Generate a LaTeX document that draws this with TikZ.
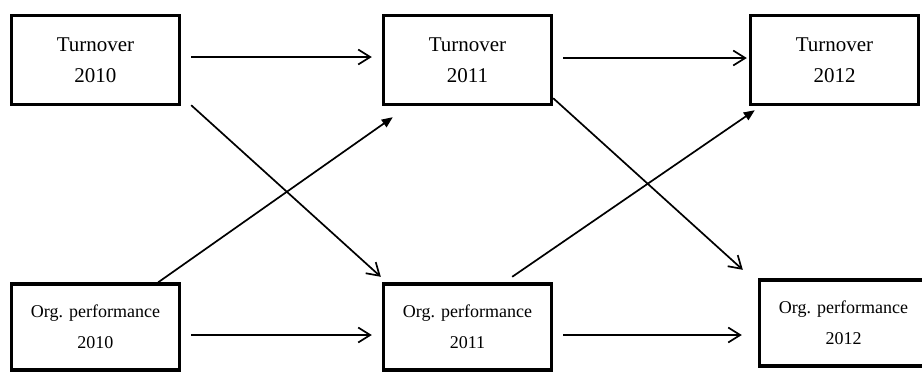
\documentclass[tikz,border=0pt]{standalone}
\usepackage{fontspec}
\setmainfont{Liberation Serif}
\usetikzlibrary{arrows.meta}
\usetikzlibrary{positioning}

\begin{document}
\begin{tikzpicture}[x=0.5pt,y=-0.5pt,node distance=186pt,on grid,
    var/.style={draw,line width=1.7pt,minimum width=84pt,align=center,inner sep=0pt},
    turn/.style={var,minimum height=44.5pt,font=\fontsize{10.5}{15.5}\selectfont},
    perf/.style={var,minimum height=43pt,font=\fontsize{9}{15.5}\selectfont},
    lag/.style={line width=0.85pt,-{Straight Barb[length=6pt,width=7.5pt]}},
    cross/.style={line width=0.85pt,-{Triangle[length=5.5pt,width=4.5pt]}}]
    \useasboundingbox (0,0) rectangle (922,372);
                \node[turn] (t_10) at (95.5,60) {Turnover\\2010};
                \node[turn] [right=of t_10] (t_11) {Turnover\\2011};
                \node[turn] [right=183.5pt of t_11] (t_12) {Turnover\\2012};
                \node[perf] [below=133.5pt of t_10] (o_10) {Org. performance\\2010};
                \node[perf] [right=of o_10] (o_11) {Org. performance\\2011};
                \node[perf] [right=188pt of o_11, yshift=2pt] (o_12) {Org. performance\\2012};
                % turnover row
                \path[lag]
                ([xshift=5pt,yshift=1.5pt]t_10.east) edge ([xshift=-5pt,yshift=1.5pt]t_11.west)
                ([xshift=5pt,yshift=1pt]t_11.east) edge ([xshift=-1pt,yshift=1pt]t_12.west);
                % performance row
                \path[lag]
                ([xshift=5pt,yshift=-4pt]o_10.east) edge ([xshift=-5pt,yshift=-4pt]o_11.west)
                ([xshift=5pt,yshift=-4pt]o_11.east) edge ([xshift=-8pt,yshift=-6pt]o_12.west);
                % cross-lagged paths
                \path[lag]
                ([xshift=5pt,yshift=0.5pt]t_10.south east) edge ([xshift=-0.5pt,yshift=2.75pt]o_11.north west)
                ([yshift=4pt]t_11.south east) edge ([xshift=-7.5pt,yshift=4.25pt]o_12.north west);
                \path[cross]
                ([xshift=-11.5pt]o_10.north east) edge ([xshift=5.5pt,yshift=-5.5pt]t_11.south west)
                ([xshift=-20.5pt,yshift=2.75pt]o_11.north east) edge ([xshift=3pt,yshift=-2pt]t_12.south west);
\end{tikzpicture}
\end{document}
